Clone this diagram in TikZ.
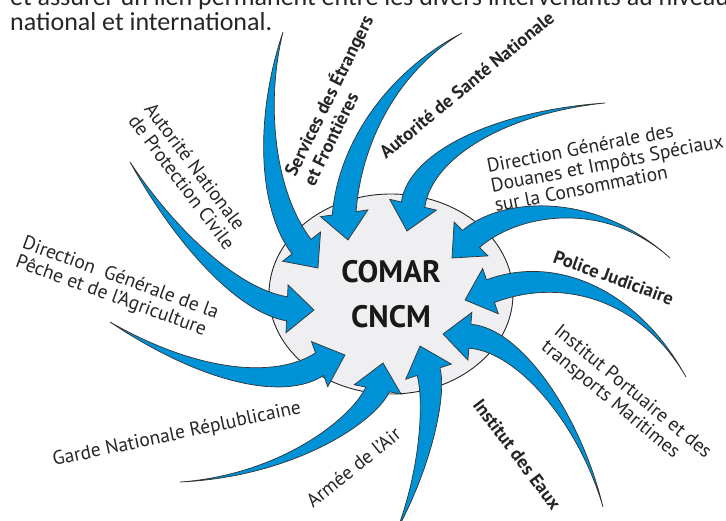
\documentclass[tikz,border=0pt]{standalone}
\usepackage{fontspec}
\setmainfont{PT Sans}
\newfontfamily\parafont{Carlito}
\usetikzlibrary{calc,shapes.geometric}

\definecolor{flowblue}{RGB}{0,146,214}
\definecolor{hubgray}{RGB}{239,239,242}

% curved feeder arrow: name, tail, control 1, control 2, head base, tip
\newcommand{\inflow}[6]{%
  \coordinate (#1) at #2;
  \coordinate (#1-tip) at #6;
  \coordinate (#1-base) at ($#6!27pt!#5$);
  \coordinate (bl) at ($(#1-base)!12pt!90:(#1-tip)$);
  \coordinate (br) at ($(#1-base)!12pt!-90:(#1-tip)$);
  \coordinate (hl) at ($(#1-base)!24pt!90:(#1-tip)$);
  \coordinate (hr) at ($(#1-base)!24pt!-90:(#1-tip)$);
  \filldraw[flow] (#1)
    .. controls ($#3+0.5*(bl)-0.5*(#1-base)$) and ($#4+(bl)-(#1-base)$) .. (bl)
    -- (hl) -- (#1-tip) -- (hr) -- (br)
    .. controls ($#4+(br)-(#1-base)$) and ($#3+0.5*(br)-0.5*(#1-base)$) .. (#1);
}

\begin{document}
\begin{tikzpicture}[x=1pt,y=-1pt,
    flow/.style={fill=flowblue,draw=black!80,line width=0.7pt,line join=miter},
    hub/.style={ellipse,draw=black!85,fill=hubgray,line width=0.9pt,
      minimum width=244pt,minimum height=200pt,inner sep=0pt,align=center,
      font=\bfseries\fontsize{31}{45}\selectfont,text=black!90},
    agency/.style={font=\fontsize{19.5}{20}\selectfont,align=left,inner sep=0pt,text=black!85},
    strong/.style={agency,font=\bfseries\fontsize{18.5}{21}\selectfont},
    para/.style={font=\parafont\fontsize{26}{26}\selectfont,inner sep=0pt,anchor=base west,text=black!85}]
  \useasboundingbox (0,0) rectangle (726,520);

  \node[para] (intro1) at (10,5) {et assurer un lien permanent entre les divers intervenants au niveau};
  \node[para] (intro2) at (10,30) {national et international.};

  \node[hub] (hub) at (391,294) {COMAR\\CNCM};

  % arrows into the hub
  \inflow{sef-in}{(283,32)}{(260,110)}{(266,200)}{(298,242)}{(318,268)}
  \inflow{sante-in}{(462,33)}{(395,70)}{(350,140)}{(344,212)}{(348,240)}
  \inflow{dgaiec-in}{(605,103)}{(500,112)}{(420,155)}{(413,205)}{(407,231)}
  \inflow{pj-in}{(670,258)}{(600,195)}{(510,205)}{(470,240)}{(452,258)}
  \inflow{iptm-in}{(686,377)}{(640,295)}{(560,265)}{(488,292)}{(465,300)}
  \inflow{eaux-in}{(603,507)}{(580,420)}{(520,340)}{(467,336)}{(443,334)}
  \inflow{armee-in}{(397,530)}{(425,470)}{(436,400)}{(428,370)}{(420,346)}
  \inflow{gnr-in}{(180,482)}{(285,476)}{(362,422)}{(378,388)}{(383,363)}
  \inflow{dgpa-in}{(110,322)}{(200,378)}{(280,390)}{(320,364)}{(345,355)}
  \inflow{anpc-in}{(130,162)}{(172,232)}{(235,300)}{(291,309)}{(314,310)}

  % the services
  \node[strong,rotate=63.6] (sef) at (337,100) {Services des Étrangers\\et Frontières};
  \node[strong,rotate=39.5,anchor=base west] (sante) at (386,160) {Autorité de Santé Nationale};
  \node[agency,rotate=11] (dgaiec) at (607,163) {Direction Générale des\\Douanes et Impôts Spéciaux\\sur la Consommation};
  \node[strong,rotate=-20,anchor=base west] (pj) at (552,262) {Police Judiciaire};
  \node[agency,rotate=-39.5] (iptm) at (626,400) {Institut Portuaire et des\\transports Maritimes};
  \node[strong,rotate=-53,anchor=base west] (eaux) at (472,405) {Institut des Eaux};
  \node[agency,rotate=39,anchor=base west] (armee) at (313,509) {Armée de l'Air};
  \node[agency,rotate=12,anchor=base west] (gnr) at (54,466) {Garde Nationale Réplublicaine};
  \node[agency,rotate=-20] (dgpa) at (117,288) {Direction\ \ Générale de la\\Pêche et de l'Agriculture};
  \node[agency,rotate=-53] (anpc) at (190,176) {Autorité Nationale\\de Protection Civile};
\end{tikzpicture}
\end{document}
